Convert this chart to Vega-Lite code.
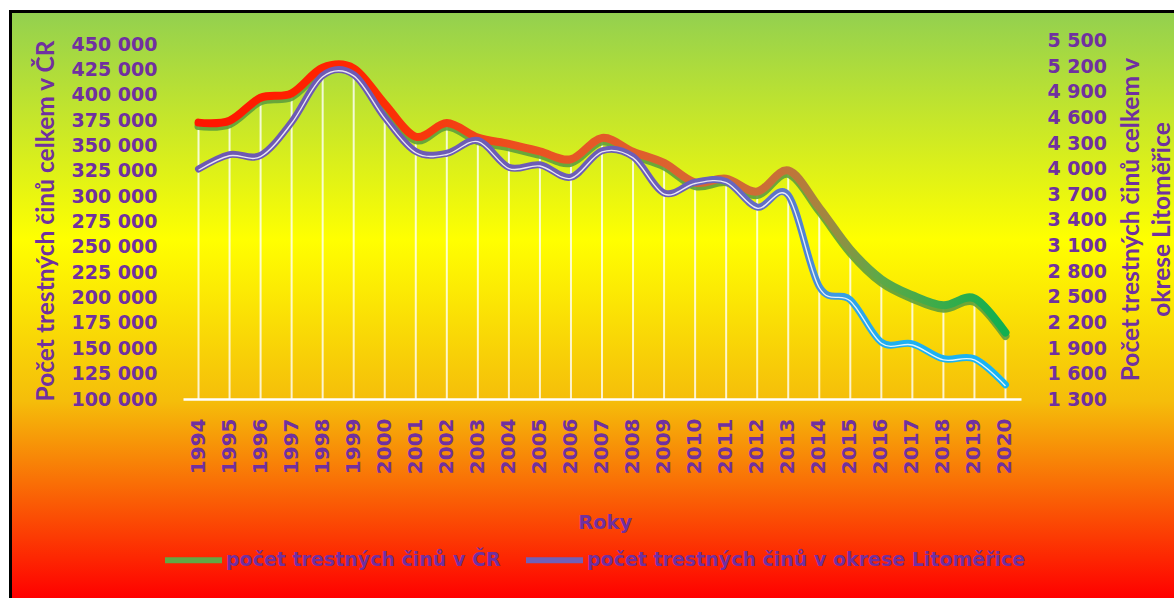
{
  "$schema": "https://vega.github.io/schema/vega-lite/v6.json",
  "width": 1164,
  "height": 587,
  "autosize": {"type": "none"},
  "padding": {"left": 10, "top": 11, "right": 0, "bottom": 0},
  "background": "white",
  "view": {
    "fill": {"gradient": "linear", "x1": 0, "y1": 0, "x2": 0, "y2": 1,
      "stops": [
        {"offset": 0, "color": "#92D050"},
        {"offset": 0.39, "color": "#FFFF00"},
        {"offset": 0.665, "color": "#F5BD0A"},
        {"offset": 1, "color": "#FF0000"}
      ]},
    "stroke": "transparent",
    "strokeWidth": 0
  },
  "config": {
    "view": {"stroke": "transparent", "strokeWidth": 0},
    "locale": {"number": {"decimal": ",", "thousands": " ", "grouping": [3], "currency": ["", " Kč"]}}
  },
  "datasets": {
    "d": [
      {"year": 1994, "cr": 372500, "lit": 3995},
      {"year": 1995, "cr": 374400, "lit": 4165},
      {"year": 1996, "cr": 397000, "lit": 4155},
      {"year": 1997, "cr": 401400, "lit": 4545},
      {"year": 1998, "cr": 426500, "lit": 5090},
      {"year": 1999, "cr": 426000, "lit": 5100},
      {"year": 2000, "cr": 391000, "lit": 4600},
      {"year": 2001, "cr": 358600, "lit": 4200},
      {"year": 2002, "cr": 372000, "lit": 4180},
      {"year": 2003, "cr": 357700, "lit": 4330},
      {"year": 2004, "cr": 351600, "lit": 4015},
      {"year": 2005, "cr": 344100, "lit": 4045},
      {"year": 2006, "cr": 336400, "lit": 3900},
      {"year": 2007, "cr": 357400, "lit": 4210},
      {"year": 2008, "cr": 343800, "lit": 4140},
      {"year": 2009, "cr": 332800, "lit": 3715},
      {"year": 2010, "cr": 313400, "lit": 3840},
      {"year": 2011, "cr": 317200, "lit": 3850},
      {"year": 2012, "cr": 304500, "lit": 3550},
      {"year": 2013, "cr": 325400, "lit": 3690},
      {"year": 2014, "cr": 288700, "lit": 2620},
      {"year": 2015, "cr": 247600, "lit": 2465},
      {"year": 2016, "cr": 218200, "lit": 1970},
      {"year": 2017, "cr": 202300, "lit": 1950},
      {"year": 2018, "cr": 192400, "lit": 1775},
      {"year": 2019, "cr": 199200, "lit": 1775},
      {"year": 2020, "cr": 165500, "lit": 1470}
    ]
  },
  "layer": [
    {
      "data": {"name": "d"},
      "encoding": {
        "x": {
          "field": "year", "type": "ordinal",
          "scale": {"range": [173, 1011]},
          "axis": {
            "orient": "bottom", "offset": -199,
            "title": "Roky", "titleX": 594.7, "titleY": 129.3, "titleAlign": "center", "titleBaseline": "alphabetic", "titleAngle": 0,
            "titleFont": "DejaVu Sans", "titleFontSize": 19.5, "titleFontWeight": "bold", "titleColor": "#7030A0",
            "labelAngle": -90, "labelFont": "DejaVu Sans", "labelFontSize": 20, "labelFontWeight": "bold", "labelColor": "#7030A0",
            "labelPadding": 19, "labelOverlap": false,
            "ticks": false, "tickSize": 0, "grid": false,
            "domainColor": "white", "domainWidth": 2.5
          }
        },
        "y": {
          "field": "cr", "type": "quantitative",
          "scale": {"domain": [100000, 450000], "range": [388, 33], "zero": false, "nice": false},
          "axis": {
            "orient": "left", "offset": -173,
            "values": [100000, 125000, 150000, 175000, 200000, 225000, 250000, 275000, 300000, 325000, 350000, 375000, 400000, 425000, 450000],
            "format": ",d",
            "labelFont": "DejaVu Sans", "labelFontSize": 19, "labelFontWeight": "bold", "labelColor": "#7030A0",
            "labelPadding": 26, "labelFlush": false, "labelOverlap": false,
            "ticks": false, "tickSize": 0, "domain": false, "grid": false,
            "title": "Počet trestných činů celkem v ČR",
            "titleFont": "Lato", "titleFontSize": 24.5, "titleFontWeight": "bold", "titleColor": "#7030A0",
            "titleAngle": -90, "titleX": -129.7, "titleY": 209.5, "titleAlign": "center", "titleBaseline": "alphabetic"
          }
        }
      },
      "layer": [
        {
          "mark": {"type": "rule", "color": "white", "strokeWidth": 2, "strokeOpacity": 0.8},
          "encoding": {"y2": {"datum": 100000}}
        },
        {
          "mark": {"type": "line", "interpolate": "cardinal", "color": "#5E9F3C", "strokeWidth": 8, "strokeCap": "round", "yOffset": 3.5, "opacity": 0.9}
        },
        {
          "mark": {
            "type": "line", "interpolate": "cardinal", "strokeWidth": 8, "strokeCap": "round",
            "color": {"gradient": "linear", "x1": 0, "y1": 0, "x2": 1, "y2": 0,
              "stops": [
                {"offset": 0, "color": "#FF1500"},
                {"offset": 0.2, "color": "#FF2800"},
                {"offset": 0.4, "color": "#EC5020"},
                {"offset": 0.6, "color": "#DA6430"},
                {"offset": 0.72, "color": "#C87038"},
                {"offset": 0.78, "color": "#A08840"},
                {"offset": 0.84, "color": "#60A848"},
                {"offset": 0.92, "color": "#3AAC4A"},
                {"offset": 1, "color": "#10B050"}
              ]}
          }
        }
      ]
    },
    {
      "data": {"name": "d"},
      "encoding": {
        "x": {"field": "year", "type": "ordinal", "scale": {"range": [173, 1011]}, "axis": null},
        "y": {
          "field": "lit", "type": "quantitative",
          "scale": {"domain": [1300, 5500], "range": [388.3, 29.5], "zero": false, "nice": false},
          "axis": {
            "orient": "right", "offset": -153,
            "values": [1300, 1600, 1900, 2200, 2500, 2800, 3100, 3400, 3700, 4000, 4300, 4600, 4900, 5200, 5500],
            "format": ",d",
            "labelFont": "DejaVu Sans", "labelFontSize": 19, "labelFontWeight": "bold", "labelColor": "#7030A0",
            "labelPadding": 26, "labelFlush": false, "labelOverlap": false,
            "ticks": false, "tickSize": 0, "domain": false, "grid": false,
            "title": ["Počet trestných činů celkem v", "okrese Litoměřice"],
            "titleFont": "Lato", "titleFontSize": 24.5, "titleFontWeight": "bold", "titleColor": "#7030A0",
            "titleAngle": -90, "titleX": 117, "titleY": 208, "titleAlign": "center", "titleBaseline": "alphabetic", "titleLineHeight": 31
          }
        }
      },
      "layer": [
        {
          "mark": {
            "type": "line", "interpolate": "cardinal", "strokeWidth": 7, "strokeCap": "round",
            "color": {"gradient": "linear", "x1": 0, "y1": 0, "x2": 1, "y2": 0,
              "stops": [
                {"offset": 0, "color": "#6E58B2"},
                {"offset": 0.6, "color": "#6C5EB8"},
                {"offset": 0.68, "color": "#6668C2"},
                {"offset": 0.73, "color": "#5A78CC"},
                {"offset": 0.77, "color": "#4690DC"},
                {"offset": 0.81, "color": "#30A4E8"},
                {"offset": 0.86, "color": "#1EB0F0"},
                {"offset": 1, "color": "#18B4F4"}
              ]}
          }
        },
        {
          "mark": {"type": "line", "interpolate": "cardinal", "strokeWidth": 1.4, "color": "white", "opacity": 0.85, "yOffset": 1.2}
        }
      ]
    },
    {
      "data": {"name": "d"},
      "mark": {"type": "line", "opacity": 0},
      "encoding": {
        "x": {
          "field": "year", "type": "quantitative",
          "axis": {"orient": "top", "offset": 0, "labels": false, "ticks": false, "grid": false, "title": null, "domainColor": "black", "domainWidth": 3, "domainCap": "square"}
        },
        "y": {
          "field": "cr", "type": "quantitative",
          "axis": {"orient": "left", "offset": 0, "labels": false, "ticks": false, "grid": false, "title": null, "domainColor": "black", "domainWidth": 3, "domainCap": "square"}
        },
        "color": {
          "datum": "počet trestných činů v ČR", "type": "nominal",
          "scale": {"domain": ["počet trestných činů v ČR", "počet trestných činů v okrese Litoměřice"], "range": ["#62A845", "#7060B8"]},
          "legend": {
            "orient": "none", "legendX": 152, "legendY": 517.5, "direction": "horizontal", "title": null,
            "symbolType": "stroke", "symbolSize": 3249, "symbolStrokeWidth": 6, "symbolOpacity": 1,
            "labelFont": "DejaVu Sans", "labelFontSize": 19, "labelFontWeight": "bold", "labelColor": "#7030A0",
            "labelOffset": 1, "columnPadding": 13, "labelLimit": 1000, "padding": 0
          }
        }
      }
    }
  ],
  "resolve": {
    "scale": {"x": "independent", "y": "independent"},
    "axis": {"x": "independent", "y": "independent"}
  }
}
